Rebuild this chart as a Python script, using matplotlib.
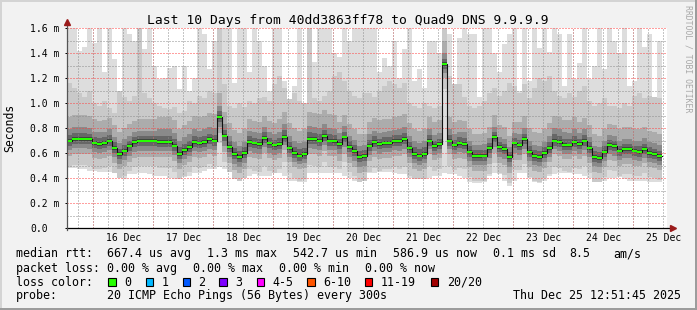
import numpy as np
import pandas as pd
import matplotlib
matplotlib.use("Agg")
import matplotlib.pyplot as plt
import matplotlib.dates as mdates
from matplotlib.lines import Line2D
from matplotlib.patches import Rectangle
from matplotlib.ticker import MultipleLocator

plt.rcParams["font.family"] = ["DejaVu Sans Mono"]

# ---------------- data ----------------
title = "Last 10 Days from 40dd3863ff78 to Quad9 DNS 9.9.9.9"
start = "2025-12-15 13:30"   # left edge of the plot
step = "2h"                  # one bin = 2 hours

# median rtt per bin (ms)
median = [0.70, 0.715, 0.715, 0.715, 0.71, 0.68, 0.675, 0.68, 0.70, 0.64,
          0.59, 0.62, 0.66, 0.69, 0.70, 0.70, 0.70, 0.70, 0.69, 0.69,
          0.69, 0.66, 0.595, 0.625, 0.65, 0.69, 0.68, 0.69, 0.71, 0.70,
          0.89, 0.74, 0.65, 0.595, 0.57, 0.60, 0.69, 0.677, 0.67, 0.72,
          0.677, 0.661, 0.67, 0.731, 0.64, 0.60, 0.58, 0.59, 0.715, 0.71,
          0.70, 0.736, 0.70, 0.696, 0.67, 0.725, 0.65, 0.616, 0.57, 0.576,
          0.66, 0.688, 0.67, 0.68, 0.683, 0.696, 0.695, 0.71, 0.64, 0.595,
          0.58, 0.595, 0.70, 0.655, 0.67, 1.31, 0.70, 0.661, 0.68, 0.675,
          0.61, 0.576, 0.576, 0.58, 0.64, 0.731, 0.65, 0.635, 0.568, 0.677,
          0.661, 0.71, 0.61, 0.576, 0.57, 0.60, 0.64, 0.70, 0.69, 0.665,
          0.661, 0.69, 0.67, 0.70, 0.64, 0.57, 0.56, 0.61, 0.664, 0.655,
          0.62, 0.635, 0.635, 0.62, 0.61, 0.63, 0.60, 0.59, 0.575]

# fastest ping per bin (ms)
ping_min = [0.48, 0.48, 0.47, 0.47, 0.46, 0.46, 0.45, 0.45, 0.45, 0.44,
            0.40, 0.39, 0.43, 0.43, 0.44, 0.44, 0.43, 0.42, 0.42, 0.42,
            0.40, 0.39, 0.39, 0.41, 0.42, 0.44, 0.44, 0.46, 0.47, 0.47,
            0.49, 0.47, 0.45, 0.39, 0.38, 0.40, 0.42, 0.43, 0.42, 0.42,
            0.42, 0.44, 0.44, 0.42, 0.38, 0.38, 0.37, 0.37, 0.44, 0.44,
            0.44, 0.44, 0.44, 0.44, 0.44, 0.42, 0.40, 0.38, 0.37, 0.38,
            0.44, 0.44, 0.45, 0.45, 0.45, 0.44, 0.43, 0.43, 0.40, 0.39,
            0.39, 0.39, 0.40, 0.42, 0.42, 0.44, 0.43, 0.43, 0.42, 0.40,
            0.37, 0.36, 0.36, 0.37, 0.42, 0.44, 0.43, 0.38, 0.34, 0.38,
            0.44, 0.44, 0.40, 0.37, 0.36, 0.38, 0.42, 0.43, 0.44, 0.44,
            0.44, 0.43, 0.43, 0.42, 0.40, 0.37, 0.37, 0.38, 0.40, 0.40,
            0.41, 0.39, 0.38, 0.38, 0.38, 0.38, 0.37, 0.37, 0.37]

# slowest ping per bin (ms, 1.6 = off the top)
ping_max = [1.6, 1.6, 1.42, 1.45, 1.6, 1.48, 1.6, 1.25, 1.6, 1.35,
            1.1, 1.6, 1.55, 1.5, 1.6, 1.43, 1.6, 1.3, 1.19, 1.2,
            1.28, 1.3, 1.11, 1.3, 1.1, 1.2, 1.6, 1.55, 1.27, 1.5,
            1.6, 1.6, 1.6, 1.16, 1.6, 1.6, 1.25, 1.6, 1.5, 1.3,
            1.1, 1.6, 1.6, 1.18, 1.03, 1.14, 1.6, 1.0, 1.6, 1.33,
            1.6, 1.6, 1.6, 1.4, 1.37, 1.6, 1.5, 1.6, 1.6, 1.6,
            1.6, 1.6, 1.25, 1.36, 1.3, 1.5, 1.2, 1.43, 1.6, 1.18,
            1.27, 1.12, 1.5, 1.5, 1.4, 1.6, 1.55, 1.15, 1.52, 1.6,
            1.55, 1.55, 1.05, 1.6, 1.6, 1.4, 1.25, 1.47, 1.55, 1.6,
            1.1, 1.6, 1.18, 1.6, 1.44, 1.6, 1.41, 1.6, 1.55, 1.14,
            1.55, 1.19, 1.32, 1.6, 1.19, 1.3, 1.6, 1.27, 1.6, 1.5,
            1.4, 1.6, 1.14, 1.18, 1.6, 1.45, 1.55, 1.05, 1.5]

# 19th of 20 sorted pings per bin (ms)
ping_p19 = [1.16, 1.12, 1.08, 1.05, 1.10, 1.00, 0.98, 1.02, 0.96, 0.92,
            1.10, 1.05, 1.02, 1.06, 1.60, 1.08, 1.04, 1.00, 0.98, 0.96,
            0.95, 0.97, 0.92, 0.94, 1.02, 1.00, 1.06, 1.04, 1.10, 1.08,
            1.60, 1.15, 0.98, 0.96, 1.00, 0.97, 1.02, 1.00, 1.04, 1.05,
            1.02, 1.15, 1.22, 1.12, 1.05, 1.08, 1.02, 1.06, 1.60, 1.04,
            1.02, 1.06, 1.10, 1.22, 1.25, 1.18, 1.10, 1.06, 1.04, 1.08,
            1.08, 1.05, 1.10, 1.14, 1.18, 1.15, 1.12, 1.16, 1.00, 0.98,
            0.96, 1.00, 0.98, 0.96, 0.98, 1.60, 1.22, 1.18, 1.15, 1.05,
            0.98, 0.96, 0.98, 1.02, 1.08, 1.12, 1.06, 1.10, 1.16, 1.14,
            1.08, 1.15, 1.04, 1.12, 1.20, 1.18, 1.22, 1.10, 1.06, 1.04,
            1.08, 1.05, 1.10, 1.14, 1.02, 0.98, 1.00, 1.04, 0.98, 0.98,
            0.96, 1.00, 0.98, 1.06, 1.08, 1.04, 1.06, 1.10, 1.04]

# spread of the inner pings around the median, per 12 hours (ms)
below_p2 = [0.21, 0.20, 0.20, 0.21, 0.20, 0.21, 0.22, 0.20, 0.21, 0.20,
            0.21, 0.22, 0.20, 0.20, 0.21, 0.20, 0.21, 0.20, 0.20, 0.19]
above_p17 = [0.19, 0.18, 0.17, 0.20, 0.21, 0.19, 0.18, 0.20, 0.21, 0.18,
             0.19, 0.20, 0.19, 0.18, 0.17, 0.19, 0.20, 0.18, 0.17, 0.18]
below_p4 = [0.12, 0.12, 0.13, 0.12, 0.12, 0.13, 0.12, 0.11, 0.12, 0.13,
            0.12, 0.12, 0.11, 0.12, 0.13, 0.12, 0.11, 0.12, 0.12, 0.11]
above_p15 = [0.09, 0.09, 0.08, 0.10, 0.10, 0.09, 0.09, 0.10, 0.10, 0.09,
             0.09, 0.10, 0.09, 0.09, 0.08, 0.09, 0.10, 0.09, 0.08, 0.09]
below_p6 = [0.075, 0.075, 0.08, 0.075, 0.075, 0.08, 0.075, 0.07, 0.075, 0.08,
            0.075, 0.075, 0.07, 0.075, 0.08, 0.075, 0.07, 0.075, 0.075, 0.07]
above_p13 = [0.045, 0.045, 0.04, 0.05, 0.045, 0.045, 0.045, 0.05, 0.05, 0.045,
             0.045, 0.05, 0.045, 0.045, 0.04, 0.045, 0.05, 0.045, 0.04, 0.045]
below_p8 = [0.04, 0.04, 0.04, 0.04, 0.04, 0.04, 0.04, 0.04, 0.04, 0.04,
            0.04, 0.04, 0.04, 0.04, 0.04, 0.04, 0.04, 0.04, 0.04, 0.04]
above_p11 = [0.015, 0.015, 0.015, 0.015, 0.015, 0.015, 0.015, 0.015, 0.015, 0.015,
             0.015, 0.015, 0.015, 0.015, 0.015, 0.015, 0.015, 0.015, 0.015, 0.015]
below_p10 = [0.015, 0.015, 0.015, 0.015, 0.015, 0.015, 0.015, 0.015, 0.015, 0.015,
             0.015, 0.015, 0.015, 0.015, 0.015, 0.015, 0.015, 0.015, 0.015, 0.015]

y_ticks = [0.0, 0.2, 0.4, 0.6, 0.8, 1.0, 1.2, 1.4, 1.6]
y_tick_labels = ["0.0", "0.2 m", "0.4 m", "0.6 m", "0.8 m", "1.0 m",
                 "1.2 m", "1.4 m", "1.6 m"]
day_labels = ["16 Dec", "17 Dec", "18 Dec", "19 Dec", "20 Dec",
              "21 Dec", "22 Dec", "23 Dec", "24 Dec", "25 Dec"]

rtt_items = ["median rtt:", "667.4 us avg", "1.3 ms max", "542.7 us min",
             "586.9 us now", "0.1 ms sd", "8.5", "am/s"]
loss_items = ["packet loss:", "0.00 % avg", "0.00 % max", "0.00 % min",
              "0.00 % now"]
loss_labels = ["0", "1", "2", "3", "4-5", "6-10", "11-19", "20/20"]
loss_colors = ["#26ff00", "#00b8ff", "#0059ff", "#7e00ff", "#ff00ff",
               "#ff5500", "#ff0000", "#a10000"]
probe_text = "20 ICMP Echo Pings (56 Bytes) every 300s"
stamp_text = "Thu Dec 25 12:51:45 2025"

# ---------------- figure ----------------
W, H = 697, 310
fig = plt.figure(figsize=(W / 100, H / 100), dpi=100, facecolor="#f2f2f2")
ax = fig.add_axes([67 / W, (H - 228) / H, 600 / W, 200 / H])
ax.set_facecolor("white")

def fx(px):
    return px / W

def fy(py):
    return 1 - py / H

n = len(median)
edges = pd.date_range(start, periods=n + 1, freq=step)
xe = mdates.date2num(edges)
med = np.array(median)
lo1 = np.array(ping_min)
hi1 = np.array(ping_max)
hi2 = np.minimum(np.array(ping_p19), hi1)

def grp(a):
    return np.repeat(np.asarray(a), 6)[:n]

def ext(a):
    return np.append(a, a[-1])

lo2 = np.maximum(med - grp(below_p2), lo1)
hi4 = np.minimum(med + grp(above_p17), hi2)
lo4 = np.maximum(med - grp(below_p4), lo2)
hi6 = np.minimum(med + grp(above_p15), hi4)
lo6 = np.maximum(med - grp(below_p6), lo4)
hi8 = np.minimum(med + grp(above_p13), hi6)
lo8 = np.maximum(med - grp(below_p8), lo6)
hi10 = np.minimum(med + grp(above_p11), hi8)
lo10 = np.maximum(med - grp(below_p10), lo8)

smoke = [(lo1, hi1, "#dddddd"), (lo2, hi2, "#c9c9c9"), (lo4, hi4, "#acacac"),
         (lo6, hi6, "#8a8a8a"), (lo8, hi8, "#676767"), (lo10, hi10, "#404040")]
for lo, hi, c in smoke:
    ax.fill_between(xe, ext(lo), ext(hi), step="post", facecolor=c,
                    edgecolor="none", linewidth=0, zorder=1, antialiased=False)

ax.step(xe, ext(med), where="post", color="#111111", lw=0.8, zorder=4)
ax.hlines(med, xe[:-1], xe[1:], color=loss_colors[0], lw=1.5, zorder=5)

# axes / grid
x0 = mdates.date2num(pd.Timestamp(start))
x1 = mdates.date2num(pd.Timestamp(start) + pd.Timedelta(days=10))
ax.set_xlim(x0, x1)
ax.set_ylim(0, 1.6)

noons = pd.date_range("2025-12-16 12:00", periods=len(day_labels), freq="D")
ax.set_xticks(mdates.date2num(noons), labels=day_labels)
ax.xaxis.set_minor_locator(mdates.HourLocator(byhour=[0, 6, 12, 18]))
ax.xaxis.remove_overlapping_locs = False
ax.set_yticks(y_ticks, labels=y_tick_labels)
ax.yaxis.set_minor_locator(MultipleLocator(0.1))

dot = (0, (1, 2))
grid_gray = (0.55, 0.55, 0.55, 0.5)
grid_red = (1.0, 0.25, 0.25, 0.5)
ax.set_axisbelow(False)
ax.grid(which="minor", axis="both", color=grid_gray, ls=dot, lw=0.72)
ax.grid(which="major", axis="y", color=grid_red, ls=dot, lw=0.72)
ax.grid(which="major", axis="x", visible=False)
midnights = pd.date_range("2025-12-16", periods=len(day_labels), freq="D")
for d in mdates.date2num(midnights):
    ax.axvline(d, color=grid_red, ls=dot, lw=0.72, zorder=2.6)

for s in ax.spines.values():
    s.set_visible(False)

ax.tick_params(axis="x", which="both", length=0, pad=3.8, labelsize=7.0)
ax.tick_params(axis="y", which="major", length=1.8, width=0.72, direction="out",
               pad=24.5, labelsize=7.0)
ax.tick_params(axis="y", which="minor", length=0)
for lbl in ax.get_yticklabels():
    lbl.set_horizontalalignment("left")

# axis lines with arrows
ax.add_line(Line2D([0, 1 + 6 / 600], [0, 0], transform=ax.transAxes,
                   color="black", lw=0.9, clip_on=False, zorder=6))
ax.add_line(Line2D([0, 0], [-2 / 200, 1 + 4 / 200], transform=ax.transAxes,
                   color="#555555", lw=0.9, clip_on=False, zorder=6))
ax.plot([1 + 6 / 600], [0], marker=">", ms=4.5, color="#9b1c1c",
        transform=ax.transAxes, clip_on=False, zorder=7)
ax.plot([0], [1 + 6 / 200], marker="^", ms=4.5, color="#9b1c1c",
        transform=ax.transAxes, clip_on=False, zorder=7)

# texts
fig.text(fx(347.9), fy(24), title, ha="center", va="baseline", fontsize=9.4)
fig.text(fx(10), fy(128), "Seconds", rotation=90, ha="center", va="center",
         fontsize=8.3)
fig.text(fx(688), fy(5), "RRDTOOL / TOBI OETIKER", rotation=270,
         ha="center", va="top", fontsize=5.9, color="#a8a8a8")

FS = 8.34
for s, x in zip(rtt_items, [16, 107.3, 207.3, 293.3, 393.3, 493.3, 569, 613]):
    fig.text(fx(x), fy(257.3), s, ha="left", va="baseline", fontsize=FS)
for s, x in zip(loss_items, [16, 107.3, 193.3, 279.3, 365]):
    fig.text(fx(x), fy(271.7), s, ha="left", va="baseline", fontsize=FS)
fig.text(fx(16), fy(285.7), "loss color:", ha="left", va="baseline", fontsize=FS)
box_x = [108.3, 145.7, 182.7, 219.3, 256.7, 307.3, 365, 431]
for lab, col, bx in zip(loss_labels, loss_colors, box_x):
    fig.patches.append(Rectangle((fx(bx), fy(286)), 7.3 / W, 7.7 / H,
                                 transform=fig.transFigure, facecolor=col,
                                 edgecolor="black", lw=0.8))
    fig.text(fx(bx + 15.7), fy(285.7), lab, ha="left", va="baseline", fontsize=FS)
fig.text(fx(16), fy(299.3), "probe:", ha="left", va="baseline", fontsize=FS)
fig.text(fx(107.3), fy(299.3), probe_text, ha="left", va="baseline", fontsize=FS)
fig.text(fx(680.6), fy(299.3), stamp_text, ha="right", va="baseline", fontsize=FS)

# 3-D frame of the canvas
for xs, ys, c in [([0, 1], [fy(1), fy(1)], "#d4d4d4"),
                  ([fx(1), fx(1)], [0, 1], "#d4d4d4"),
                  ([0, 1], [fy(309), fy(309)], "#9c9c9c"),
                  ([fx(696), fx(696)], [0, 1], "#9c9c9c")]:
    fig.add_artist(Line2D(xs, ys, transform=fig.transFigure, color=c, lw=1.44))

fig.savefig("out.png", dpi=100, facecolor=fig.get_facecolor())
